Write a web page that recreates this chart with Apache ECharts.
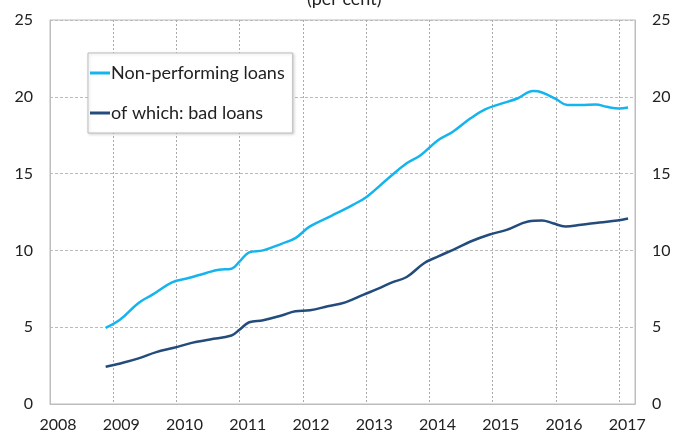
<!DOCTYPE html>
<html><head><meta charset="utf-8">
<script src="https://cdn.jsdelivr.net/npm/echarts@6/dist/echarts.min.js"></script>
<style>html,body{margin:0;padding:0;background:#fff}#c{width:676px;height:434px}</style>
</head><body><div id="c"></div>
<script>
var titleText = '(per cent)';
var seriesNames = ['Non-performing loans', 'of which: bad loans'];
var yearTicks = [2008, 2009, 2010, 2011, 2012, 2013, 2014, 2015, 2016, 2017];
var nplX = [2008.88, 2009.11, 2009.40, 2009.62, 2009.93, 2010.19, 2010.47, 2010.67, 2010.87, 2011.00, 2011.15, 2011.37, 2011.66, 2011.88, 2012.11, 2012.45, 2012.79, 2013.01, 2013.35, 2013.64, 2013.86, 2014.14, 2014.37, 2014.65, 2014.88, 2015.11, 2015.39, 2015.64, 2015.78, 2016.01, 2016.18, 2016.40, 2016.63, 2016.80, 2017.00, 2017.14];
var nplY = [4.96, 5.5, 6.58, 7.12, 7.92, 8.2, 8.53, 8.74, 8.81, 9.29, 9.87, 10.0, 10.43, 10.8, 11.56, 12.25, 12.97, 13.5, 14.7, 15.67, 16.2, 17.19, 17.73, 18.6, 19.18, 19.52, 19.89, 20.37, 20.28, 19.83, 19.46, 19.46, 19.5, 19.35, 19.24, 19.3];
var badX = [2008.88, 2009.11, 2009.40, 2009.68, 2009.96, 2010.24, 2010.53, 2010.87, 2011.00, 2011.15, 2011.37, 2011.66, 2011.88, 2012.11, 2012.39, 2012.67, 2012.96, 2013.18, 2013.41, 2013.64, 2013.92, 2014.14, 2014.43, 2014.65, 2014.94, 2015.22, 2015.56, 2015.78, 2015.95, 2016.15, 2016.40, 2016.69, 2016.97, 2017.14];
var badY = [2.42, 2.64, 2.97, 3.38, 3.66, 3.98, 4.2, 4.46, 4.85, 5.32, 5.45, 5.76, 6.04, 6.1, 6.36, 6.62, 7.12, 7.49, 7.92, 8.27, 9.18, 9.61, 10.15, 10.58, 11.02, 11.34, 11.88, 11.95, 11.77, 11.56, 11.67, 11.82, 11.95, 12.08];

function pairs(xs, ys) { return xs.map(function (x, i) { return [x, ys[i]]; }); }
var font = 'Lato, "Open Sans", sans-serif';
var chart = echarts.init(document.getElementById('c'), null, {renderer: 'canvas'});
chart.setOption({
  animation: false,
  backgroundColor: '#fff',
  textStyle: {fontFamily: font},
  title: {text: titleText, left: 302, top: -15, textStyle: {fontSize: 18, fontWeight: 'normal', color: '#222', fontFamily: font}},
  grid: {left: 50, right: 41, top: 20, bottom: 30, show: true, borderColor: '#bdbdbd', borderWidth: 1, containLabel: false},
  legend: {
    orient: 'vertical', left: 88, top: 53,
    padding: [11, 8, 11, 2], itemGap: 22, itemWidth: 20, itemHeight: 3,
    backgroundColor: '#fff', borderColor: '#bdbdbd', borderWidth: 1,
    shadowColor: 'rgba(0,0,0,0.15)', shadowBlur: 3, shadowOffsetX: 1, shadowOffsetY: 1,
    icon: 'rect',
    textStyle: {fontSize: 18, color: '#222', fontFamily: font, padding: [0, 0, 0, -4]},
    data: seriesNames
  },
  xAxis: {
    type: 'value', min: 2008, max: 2017.25, interval: 1,
    axisLine: {show: true, lineStyle: {color: '#bdbdbd'}},
    axisTick: {show: false},
    splitLine: {show: true, lineStyle: {color: '#aaa', type: [2, 2]}},
    axisLabel: {
      fontSize: 16, color: '#222', margin: 13, fontFamily: font, padding: [0, 0, 0, 16],
      showMaxLabel: false,
      formatter: function (v) { return yearTicks.indexOf(v) >= 0 ? String(v) : ''; }
    }
  },
  yAxis: [
    {type: 'value', min: 0, max: 25, interval: 5, position: 'left',
     axisLine: {show: true, lineStyle: {color: '#bdbdbd'}}, axisTick: {show: false},
     splitLine: {show: true, lineStyle: {color: '#bbb', type: [3, 2]}},
     axisLabel: {fontSize: 16, color: '#222', margin: 17, fontFamily: font}},
    {type: 'value', min: 0, max: 25, interval: 5, position: 'right',
     axisLine: {show: true, lineStyle: {color: '#bdbdbd'}}, axisTick: {show: false},
     splitLine: {show: false},
     axisLabel: {fontSize: 16, color: '#222', margin: 17, fontFamily: font}}
  ],
  series: [
    {name: seriesNames[0], type: 'line', data: pairs(nplX, nplY), smooth: 0.4, showSymbol: false,
     lineStyle: {width: 2.5, color: '#16b4ee'}, itemStyle: {color: '#16b4ee'}},
    {name: seriesNames[1], type: 'line', data: pairs(badX, badY), smooth: 0.4, showSymbol: false,
     lineStyle: {width: 2.5, color: '#234c7c'}, itemStyle: {color: '#234c7c'}}
  ]
});
</script></body></html>
